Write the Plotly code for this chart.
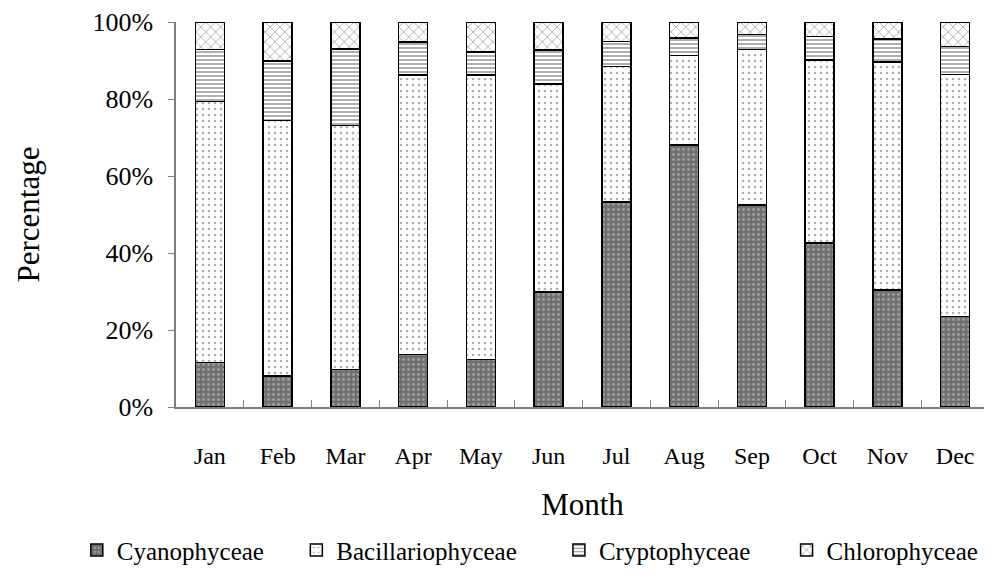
import plotly.graph_objects as go

months = ["Jan", "Feb", "Mar", "Apr", "May", "Jun", "Jul", "Aug", "Sep", "Oct", "Nov", "Dec"]

# share of each class per month (%)
cyanophyceae = [11.6, 8.0, 9.8, 13.7, 12.4, 29.9, 53.3, 68.1, 52.5, 42.6, 30.4, 23.5]
bacillariophyceae = [67.7, 66.4, 63.3, 72.6, 73.8, 54.0, 35.1, 23.2, 40.4, 47.5, 59.2, 62.9]
cryptophyceae = [13.6, 15.5, 19.9, 8.5, 6.0, 8.8, 6.6, 4.6, 3.8, 6.2, 6.0, 7.2]
chlorophyceae = [7.1, 10.1, 7.0, 5.2, 7.8, 7.3, 5.0, 4.1, 3.3, 3.7, 4.4, 6.4]

y_ticks = [0, 20, 40, 60, 80, 100]

FONT = "Liberation Serif, Times New Roman, serif"

# (name, values, pattern, legend id, legend x)
series = [
    ("Cyanophyceae", cyanophyceae,
     dict(shape=".", bgcolor="#707070", fgcolor="#d0d0d0", size=5, solidity=0.25),
     "legend", -0.122),
    ("Bacillariophyceae", bacillariophyceae,
     dict(shape=".", bgcolor="white", fgcolor="#606060", size=6, solidity=0.15),
     "legend2", 0.148),
    ("Cryptophyceae", cryptophyceae,
     dict(shape="-", bgcolor="white", fgcolor="#333333", size=4, solidity=0.4),
     "legend3", 0.471),
    ("Chlorophyceae", chlorophyceae,
     dict(shape="x", bgcolor="white", fgcolor="#666666", size=7, solidity=0.25),
     "legend4", 0.751),
]

fig = go.Figure()
legends = {}
for name, vals, pattern, leg, lx in series:
    fig.add_trace(go.Bar(
        x=months,
        y=vals,
        name=name,
        legend=leg,
        marker=dict(color=pattern["bgcolor"], pattern=pattern,
                    line=dict(color="black", width=1.5)),
    ))
    legends[leg] = dict(
        orientation="h",
        x=lx,
        xanchor="left",
        y=-0.372,
        yanchor="middle",
        font=dict(family=FONT, size=25, color="black"),
        itemwidth=30,
        bgcolor="rgba(0,0,0,0)",
    )

# page body has an 8px default margin, so margins are shifted by 8px
fig.update_layout(
    width=992,
    height=581,
    barmode="stack",
    bargap=0.57,
    plot_bgcolor="white",
    paper_bgcolor="white",
    margin=dict(l=168, r=11, t=14, b=182),
    font=dict(family=FONT, size=22, color="black"),
    showlegend=True,
    **legends,
)

fig.update_xaxes(
    automargin=False,
    showline=True,
    linecolor="#808080",
    linewidth=1.5,
    ticks="inside",
    tickson="boundaries",
    ticklen=7,
    tickcolor="#808080",
    tickfont=dict(family=FONT, size=24),
    ticklabelstandoff=26,
    title=dict(text="Month", font=dict(family=FONT, size=31), standoff=26),
    showgrid=False,
)
fig.update_yaxes(
    automargin=False,
    range=[0, 100],
    tickvals=y_ticks,
    ticktext=[f"{v}%" for v in y_ticks],
    ticklabeloverflow="allow",
    showline=True,
    linecolor="#808080",
    linewidth=1.5,
    ticks="outside",
    ticklen=6,
    tickcolor="#808080",
    tickfont=dict(family=FONT, size=26),
    ticklabelstandoff=10,
    title=dict(text="Percentage", font=dict(family=FONT, size=31), standoff=44),
    showgrid=False,
    zeroline=False,
)

fig.write_html("out.html")
